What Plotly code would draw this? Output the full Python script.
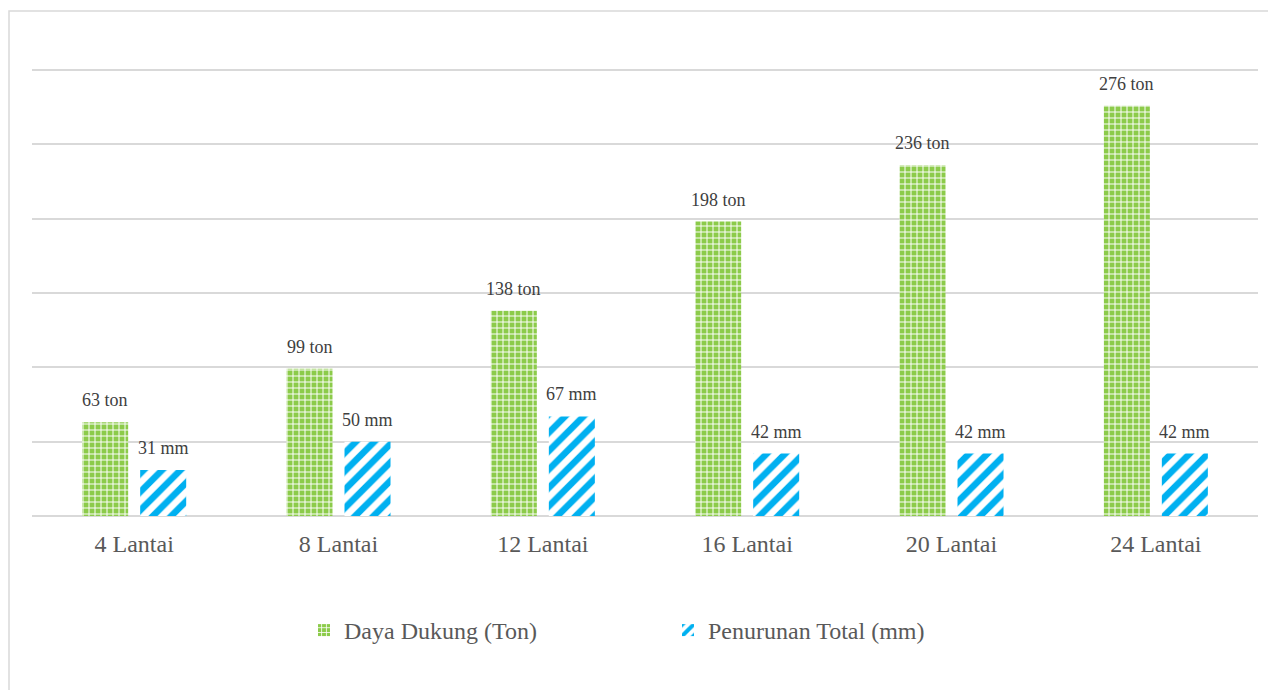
import plotly.graph_objects as go

categories = ["4 Lantai", "8 Lantai", "12 Lantai", "16 Lantai", "20 Lantai", "24 Lantai"]
daya_dukung = [63, 99, 138, 198, 236, 276]
penurunan = [31, 50, 67, 42, 42, 42]

FONT = "Liberation Serif"

fig = go.Figure()
fig.add_trace(go.Bar(
    x=categories, y=daya_dukung, name="Daya Dukung (Ton)",
    marker=dict(color="#92D050", line=dict(width=0),
                pattern=dict(shape="+", fgcolor="#FFFFFF", bgcolor="#8CCB4A",
                             size=6, solidity=0.3, fillmode="overlay", fgopacity=1)),
))
fig.add_trace(go.Bar(
    x=categories, y=penurunan, name="Penurunan Total (mm)",
    marker=dict(color="#FFFFFF", line=dict(width=0),
                pattern=dict(shape="/", fgcolor="#00B0F0", bgcolor="#FFFFFF",
                             size=13, solidity=0.5, fillmode="overlay", fgopacity=1)),
))

annotations = []
for c, v in zip(categories, daya_dukung):
    annotations.append(dict(x=c, y=v, text=f"{v} ton", showarrow=False, xshift=-29,
                            yshift=22, yanchor="middle",
                            font=dict(family=FONT, size=18, color="#404040")))
for c, v in zip(categories, penurunan):
    annotations.append(dict(x=c, y=v, text=f"{v} mm", showarrow=False, xshift=29,
                            yshift=22, yanchor="middle",
                            font=dict(family=FONT, size=18, color="#404040")))

fig.update_layout(
    width=1268, height=690,
    margin=dict(l=32, r=10, t=67, b=174),
    paper_bgcolor="white", plot_bgcolor="white",
    barmode="group", bargap=0.432, bargroupgap=0.207,
    font=dict(family=FONT, color="#595959"),
    showlegend=True,
    legend=dict(orientation="h", x=(304 - 32) / 1226, xanchor="left",
                y=-0.255, yanchor="middle",
                font=dict(family=FONT, size=24, color="#595959"),
                entrywidth=319, entrywidthmode="pixels"),
    xaxis=dict(showgrid=False, showline=False, ticks="", ticklabelstandoff=11,
               tickfont=dict(family=FONT, size=24, color="#595959")),
    yaxis=dict(range=[0, 302], tickvals=[0, 50, 100, 150, 200, 250, 300],
               showgrid=True, gridcolor="#D9D9D9",
               gridwidth=1.5, zeroline=True, zerolinecolor="#D9D9D9",
               zerolinewidth=1.5, showticklabels=False, ticks=""),
    annotations=annotations,
    shapes=[dict(type="rect", xref="paper", yref="paper",
                 x0=(9 - 32) / 1226, x1=(1290 - 32) / 1226,
                 y0=(516 - 720) / 449, y1=(516 - 11) / 449,
                 line=dict(color="#D9D9D9", width=1.5), fillcolor="rgba(0,0,0,0)")],
)

fig.write_html("out.html")
